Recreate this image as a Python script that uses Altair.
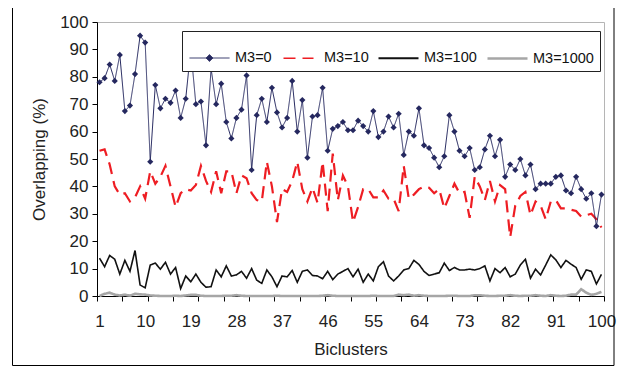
import altair as alt
import pandas as pd

biclusters = list(range(1, 101))

m3_0 = [78, 79.5, 84.5, 78.5, 88, 67.5, 69.5, 81, 95, 92.5,
        49, 77, 68.5, 72, 70.5, 75, 65, 72, 90, 70,
        71, 55, 83, 70, 77.5, 63.5, 57.5, 65, 68, 80.5,
        46, 66, 72, 63.5, 76, 67, 61.5, 65, 78.5, 60,
        71.5, 50.5, 65.5, 66, 76, 53, 61, 62, 63.5, 60.5,
        60.5, 64, 62, 60, 67.5, 58, 60, 65.5, 61.5, 66.5,
        51.5, 60, 58.5, 68.5, 55, 54, 50.5, 47, 51, 66,
        60, 53, 51, 54, 46, 47, 53.5, 58.5, 51, 57,
        43.5, 48, 46, 50, 44, 48, 39, 41, 41, 41,
        43.5, 44, 38.5, 37.5, 43.5, 39, 35.5, 37.5, 25.5, 37]

m3_10 = [53, 53.5, 48, 40, 37, 37.5, 34.5, 36, 40, 35.5,
         45.5, 41, 43.5, 47.5, 40, 32.5, 37.5, 39, 38.5, 40.5,
         47.5, 42, 38, 45.5, 37.5, 45.5, 45.5, 37.5, 44, 43,
         37.5, 35, 34.5, 49, 40, 27, 39, 38, 42, 49,
         39, 34.5, 39.5, 34, 49, 31, 52, 35, 44, 40,
         27, 32.5, 39, 39, 36, 36, 38.5, 35.5, 35.5, 31,
         47.5, 35.5, 37, 39, 40, 39.5, 37.5, 39, 32, 36.5,
         41, 37.5, 38, 28.5, 43.5, 40, 35, 42, 34.5, 40.5,
         39, 21.5, 33, 36.5, 38, 29.5, 34.5, 33, 28, 34.5,
         35, 32, 32, 31.5, 31, 29, 29.5, 30, 28, 25]

m3_100 = [13.8, 10.7, 14.8, 13.4, 8, 13, 9, 16.6, 4, 3,
          11.3, 12, 9.8, 12.3, 8, 10.4, 2.7, 7.3, 5.2, 8,
          5, 3.2, 3.4, 9.5, 7, 11, 7.3, 7.7, 9, 6.5,
          10, 5.8, 4.6, 9.5, 7, 3.4, 7.3, 7, 9.3, 5,
          9, 9.5, 7.5, 7.3, 6.3, 9, 6, 8, 9, 10,
          7, 9.8, 5, 8, 5.5, 10.7, 12.5, 7.3, 5.5, 7.3,
          9.5, 10, 13, 11.5, 9, 7.5, 8, 8.5, 12, 9.3,
          10.4, 9.5, 9.5, 9.8, 9.5, 10, 11, 5.5, 10, 8.5,
          10.4, 7, 8, 11.3, 13.4, 6.5, 9.8, 7.7, 11.3, 15,
          13.2, 10.4, 13, 11.6, 10.4, 6.1, 9.5, 9, 4.4, 7.9]

m3_1000 = [0, 0.8, 1.2, 0.5, 0.2, 0.5, 0.1, 0.8, 0.6, 0.5,
           0.2, 0.1, 0, 0, 0, 0.1, 0, 0.2, 0.4, 0.4,
           0.1, 0, 0, 0, 0, 0.1, 0.1, 0.3, 0.1, 0,
           0, 0, 0, 0, 0, 0.1, 0, 0, 0, 0,
           0, 0, 0, 0, 0.1, 0.3, 0.1, 0, 0, 0,
           0, 0, 0, 0, 0.1, 0, 0, 0, 0, 0.5,
           0.3, 0.5, 0.1, 0.3, 0.1, 0, 0, 0, 0, 0.1,
           0.1, 0, 0, 0, 0.3, 0.3, 0.1, 0, 0, 0.1,
           0.1, 0.3, 0.1, 0, 0.1, 0.1, 0.3, 0.1, 0, 0.3,
           0.1, 0, 0.1, 0.5, 0.5, 2.5, 1.2, 0.4, 0.8, 1.5]

series_names = ["M3=0", "M3=10", "M3=100", "M3=1000"]
colors = ["#25285f", "#ee1d23", "#111111", "#a6a6a6"]
dashes = [[1, 0], [12, 7], [1, 0], [1, 0]]
widths = [1, 2.2, 1.6, 2.6]
legend_widths = [1, 2.4, 1.8, 2.8]
legend_shapes = ["M-1,0H1M0,-0.17L0.17,0L0,0.17L-0.17,0Z", "M-0.75,0H0.75", "M-1,0H1", "M-1,0H1"]
legend_dashes = [[1, 0], [12, 7], [1, 0], [1, 0]]

x_label_values = list(range(1, 101, 9))
x_tick_values = [0.5 + 5 * k for k in range(21)]
y_values = list(range(0, 101, 10))

rows = []
for name, vals in zip(series_names, [m3_0, m3_10, m3_100, m3_1000]):
    for b, v in zip(biclusters, vals):
        rows.append({"bicluster": b, "series": name, "value": v})
df = pd.DataFrame(rows)

# one row per series, placed outside the plotted domain: only feeds the legend
legend_df = pd.DataFrame({"series": series_names, "bicluster": [-50] * 4, "value": [50] * 4})

FONT = "Liberation Sans"
xscale = alt.Scale(domain=[0.5, 100.5], nice=False, zero=False)
yscale = alt.Scale(domain=[0, 100], nice=False)

yaxis = alt.Axis(values=y_values, tickSize=5, domainColor="black", tickColor="black",
                 labelFontSize=17, labelPadding=4, labelColor="#222", labelFont=FONT,
                 title="Overlapping (%)", titleFontSize=17, titleFont=FONT,
                 titleFontWeight="normal", titleColor="#222", titlePadding=11, grid=False)

xaxis_labels = alt.Axis(values=x_label_values, ticks=False, domain=False, grid=False,
                        labelFontSize=17, labelPadding=17, labelColor="#222", labelFont=FONT,
                        labelFlush=False, labelOverlap=False,
                        title="Biclusters", titleFontSize=17, titleFont=FONT,
                        titleFontWeight="normal", titleColor="#222", titlePadding=12,
                        orient="bottom")
xaxis_ticks = alt.Axis(values=x_tick_values, labels=False, tickSize=5, domainColor="black",
                       tickColor="black", grid=False, title=None, orient="bottom")

legend = alt.Legend(
    title=None, orient="none", legendX=85, legendY=9, direction="horizontal", columns=4,
    strokeColor="#222", fillColor="white", padding=6, cornerRadius=0,
    labelFont=FONT, labelFontSize=14.5, labelColor="#111",
    symbolSize=1600, columnPadding=5, labelOffset=4,
)


def series_layer(name, color, dash, width, axis):
    return alt.Chart(df).transform_filter(alt.datum.series == name).mark_line(
        color=color, strokeDash=dash, strokeWidth=width
    ).encode(
        x=alt.X("bicluster:Q", scale=xscale, axis=axis),
        y=alt.Y("value:Q", scale=yscale, axis=yaxis),
    )


gray_line = series_layer("M3=1000", colors[3], dashes[3], widths[3], xaxis_labels)
black_line = series_layer("M3=100", colors[2], dashes[2], widths[2], None)
red_line = series_layer("M3=10", colors[1], dashes[1], widths[1], None)
navy_line = series_layer("M3=0", colors[0], dashes[0], widths[0], None)

points = alt.Chart(df).transform_filter(alt.datum.series == "M3=0").mark_point(
    shape="diamond", filled=True, size=38, color=colors[0], opacity=1
).encode(
    x=alt.X("bicluster:Q", scale=xscale, axis=xaxis_ticks),
    y=alt.Y("value:Q", scale=yscale, axis=yaxis),
)

legend_layer = alt.Chart(legend_df).mark_point(clip=True, opacity=1, size=1600).encode(
    x=alt.X("bicluster:Q", scale=xscale, axis=None),
    y=alt.Y("value:Q", scale=yscale, axis=yaxis),
    fill=alt.Fill("series:N", scale=alt.Scale(domain=series_names, range=colors), legend=legend),
    stroke=alt.Stroke("series:N", scale=alt.Scale(domain=series_names, range=colors), legend=legend),
    shape=alt.Shape("series:N", scale=alt.Scale(domain=series_names, range=legend_shapes), legend=legend),
    strokeDash=alt.StrokeDash("series:N", scale=alt.Scale(domain=series_names, range=legend_dashes), legend=legend),
    strokeWidth=alt.StrokeWidth("series:N", scale=alt.Scale(domain=series_names, range=legend_widths), legend=legend),
)

frame = alt.Chart(alt.Data(values=[{"a": 1}])).mark_rect(
    fill=None, stroke="black", strokeWidth=1, clip=False
).encode(
    x=alt.value(-84.5), x2=alt.value(517), y=alt.value(-40), y2=alt.value(343.5)
)

chart = alt.layer(gray_line, black_line, red_line, navy_line, points, legend_layer, frame).resolve_axis(
    x="independent"
).properties(
    width=507, height=274,
    autosize=alt.AutoSizeParams(type="none"),
    padding={"left": 89, "top": 14, "right": 18, "bottom": 70},
    background="white",
).configure_view(stroke="#b5b5b5", strokeWidth=1)

chart.save("out.html", embed_options={"renderer": "svg", "actions": False})
